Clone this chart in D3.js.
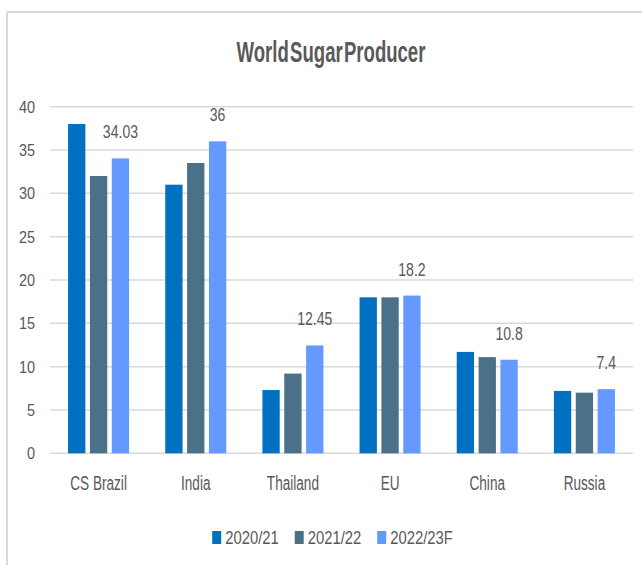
<!DOCTYPE html>
<html>
<head>
<meta charset="utf-8">
<script src="https://cdn.jsdelivr.net/npm/d3@7/dist/d3.min.js"></script>
<style>
  html, body { margin: 0; padding: 0; background: #fff; }
  svg { display: block; }
</style>
</head>
<body>
<svg id="chart" width="642" height="565"></svg>
<script>
// Sugar production by producer, three marketing years
const categories = ["CS Brazil", "India", "Thailand", "EU", "China", "Russia"];
const seriesNames = ["2020/21", "2021/22", "2022/23F"];
const values2020 = [38, 31, 7.3, 18, 11.7, 7.2];
const values2021 = [32, 33.5, 9.2, 18, 11.1, 7.0];
const values2022 = [34.03, 36, 12.45, 18.2, 10.8, 7.4];
const yTicks = [0, 5, 10, 15, 20, 25, 30, 35, 40];
const seriesColors = ["#0070C0", "#4A7188", "#6699FF"];
const title = "World Sugar Producer";

const seriesValues = [values2020, values2021, values2022];
const rows = categories.map((c, i) => ({
  category: c,
  values: seriesNames.map((s, j) => ({ series: s, value: seriesValues[j][i], idx: j }))
}));

const svg = d3.select("#chart");
const textColor = "#595959";
const font = "'Liberation Sans', Arial, sans-serif";

// chart frame
svg.append("line").attr("x1", 7).attr("x2", 642).attr("y1", 12).attr("y2", 12)
  .attr("stroke", "#D9D9D9").attr("stroke-width", 2);
svg.append("line").attr("x1", 7).attr("x2", 7).attr("y1", 12).attr("y2", 565)
  .attr("stroke", "#D9D9D9").attr("stroke-width", 2);

const plot = { left: 50, right: 633, top: 106.7, bottom: 453.3 };

const x = d3.scaleBand().domain(categories).range([plot.left, plot.right])
  .paddingInner(0.372).paddingOuter(0.186);
const xs = d3.scaleBand().domain(seriesNames).range([0, x.bandwidth()])
  .paddingInner(0.208);
const y = d3.scaleLinear().domain([0, 40]).range([plot.bottom, plot.top]);

// squeezed text helper
function label(parent, text, px, py, opts) {
  const o = Object.assign({ size: 18, sx: 0.8, anchor: "middle", weight: "normal", fill: textColor }, opts || {});
  return parent.append("text")
    .attr("transform", `translate(${px},${py}) scale(${o.sx},1)`)
    .attr("text-anchor", o.anchor)
    .attr("font-family", font)
    .attr("font-size", o.size)
    .attr("font-weight", o.weight)
    .attr("fill", o.fill)
    .text(text);
}

// gridlines
svg.append("g").selectAll("line").data(yTicks).join("line")
  .attr("x1", plot.left).attr("x2", plot.right)
  .attr("y1", d => y(d)).attr("y2", d => y(d))
  .attr("stroke", "#D9D9D9").attr("stroke-width", 1.5);

// y axis labels
const yAxisG = svg.append("g");
yTicks.forEach(t => label(yAxisG, d3.format("d")(t), 35, y(t) + 6, { size: 17, sx: 0.85, anchor: "end" }));

// bars
const groups = svg.append("g").selectAll("g").data(rows).join("g")
  .attr("transform", d => `translate(${x(d.category)},0)`);
groups.selectAll("rect").data(d => d.values).join("rect")
  .attr("x", d => xs(d.series))
  .attr("width", xs.bandwidth())
  .attr("y", d => y(d.value))
  .attr("height", d => y(0) - y(d.value))
  .attr("fill", d => seriesColors[d.idx]);

// value labels on the latest season
const valG = svg.append("g");
rows.forEach(r => {
  const v = r.values[2];
  const cx = x(r.category) + xs(v.series) + xs.bandwidth() / 2;
  label(valG, String(v.value), cx, y(v.value) - 20, { size: 19, sx: 0.74 });
});

// category labels
const catG = svg.append("g");
categories.forEach(c => label(catG, c, x(c) + x.bandwidth() / 2, 489.5, { size: 20, sx: 0.68 }));

// title
label(svg, title, 331, 62, { size: 29, sx: 0.64, weight: "bold", fill: "#595959" })
  .attr("word-spacing", -6);

// legend
const legend = svg.append("g");
const legendSx = 0.78, boxW = 9, boxH = 13, boxGap = 4, itemGap = 16, legendBase = 544;
const items = seriesNames.map((s, i) => {
  const t = label(legend, s, 0, legendBase, { size: 19, sx: legendSx, anchor: "start" });
  return { t, w: t.node().getComputedTextLength() * legendSx, i };
});
const total = d3.sum(items, d => boxW + boxGap + d.w) + itemGap * (items.length - 1);
let cx = 332.5 - total / 2;
items.forEach(d => {
  legend.append("rect").attr("x", cx).attr("y", legendBase - boxH)
    .attr("width", boxW).attr("height", boxH).attr("fill", seriesColors[d.i]);
  d.t.attr("transform", `translate(${cx + boxW + boxGap},${legendBase}) scale(${legendSx},1)`);
  cx += boxW + boxGap + d.w + itemGap;
});
</script>
</body>
</html>
